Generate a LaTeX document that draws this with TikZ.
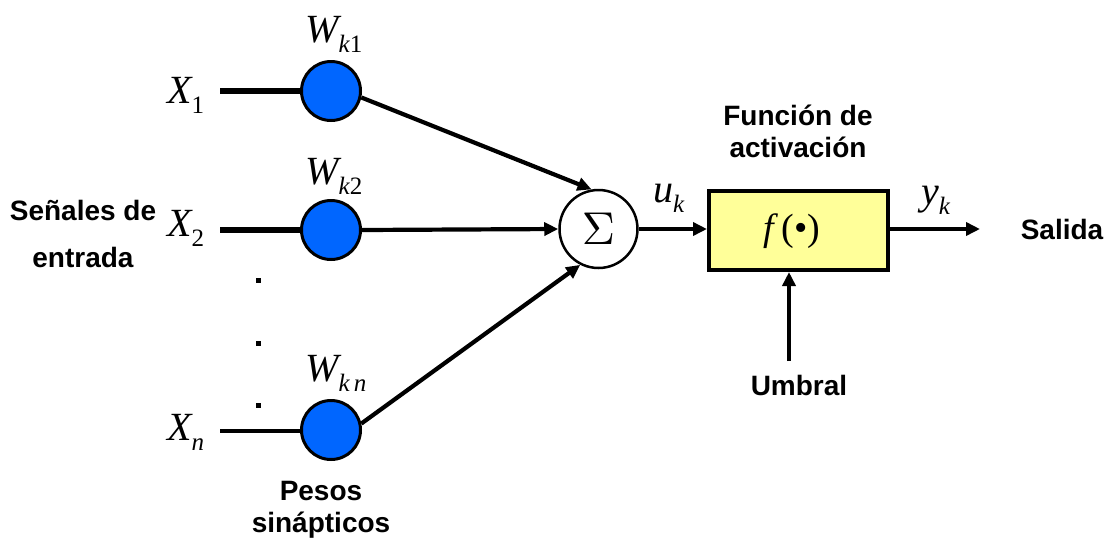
\documentclass[tikz,border=0pt]{standalone}
\usepackage{fontspec}
\usepackage{graphicx}
\setmainfont{Liberation Sans}
\newfontfamily\tms{Liberation Serif}
\usetikzlibrary{arrows.meta}
\definecolor{wblue}{RGB}{0,102,255}
\definecolor{fyellow}{RGB}{255,255,153}
% symbol with a lowered subscript
\newcommand{\msub}[2]{{\itshape #1}\raisebox{-10pt}{\fontsize{25}{25}\selectfont #2}}
\begin{document}
\begin{tikzpicture}[x=1pt,y=-1pt,
  wcirc/.style={circle, draw, line width=3pt, fill=wblue, minimum size=59pt, inner sep=0pt},
  sumc/.style={circle, draw, line width=2.5pt, fill=white, minimum size=78pt, inner sep=0pt},
  fbox/.style={rectangle, draw, line width=4pt, fill=fyellow, minimum width=179pt,
    minimum height=79pt, inner sep=0pt},
  wire/.style={line width=5.5pt},
  thinwire/.style={line width=3.5pt},
  arr/.style={line width=4.2pt, -{Triangle[length=14pt,width=13pt]}},
  lbl/.style={font=\bfseries\fontsize{28}{32}\selectfont, align=center, inner sep=0pt},
  sym/.style={inner sep=0pt, anchor=base west, font=\tms\fontsize{40}{40}\selectfont},
  dotmark/.style={fill=black, minimum size=5pt, inner sep=0pt, rectangle}
]
\useasboundingbox[fill=white] (0,0) rectangle (1104,542);

% synaptic weights
\node[wcirc] (w1) at (331,91) {};
\node[wcirc] (w2) at (331,230) {};
\node[wcirc] (wn) at (331,430) {};

% summing junction and activation block
\node[sumc] (sum) at (598.5,229) {\scalebox{4.6}{$\Sigma$}};
\node[fbox] (f) at (798.5,230.5) {};
\node[inner sep=0pt, font=\tms\fontsize{38}{38}\selectfont] (ftext) at (792,231) {\textit{f}\kern3pt(•)};

% input signal line ends
\coordinate (x1) at (220,91);
\coordinate (x2) at (220,230);
\coordinate (xn) at (220,431);
\coordinate (out) at (980,229);
\coordinate (th) at (789,361);

% input symbols
\node[sym] (lx1) at (167,103) {\msub{X}{1}};
\node[sym] (lx2) at (167,236) {\msub{X}{2}};
\node[sym] (lxn) at (167,440) {\msub{X}{\textit{n}}};

% weight symbols
\node[sym] (lw1) at (305,42) {\msub{W}{\textit{k}1}};
\node[sym] (lw2) at (305,184) {\msub{W}{\textit{k}2}};
\node[sym] (lwn) at (305,381) {\msub{W}{\textit{k\,n}}};

% net input and output symbols
\node[sym] (lu) at (653,202) {\msub{u}{\textit{k}}};
\node[sym] (ly) at (921,204) {\msub{y}{\textit{k}}};

% ellipsis between inputs
\node[dotmark] (d1) at (258,280) {};
\node[dotmark] (d2) at (258,343) {};
\node[dotmark] (d3) at (258,405) {};

% connections
\draw[wire] (x1) -- (w1.west);
\draw[wire] (x2) -- (w2.west);
\draw[thinwire] (xn) -- (wn.west |- xn);
\draw[arr] (w1.-12) -- (sum.100);
\draw[arr] (w2.east) -- (sum.west);
\draw[arr] (wn.12) -- (sum.-117);
\draw[arr] (sum.east) -- (f.west |- sum.east);
\draw[arr] (f.east |- out) -- (out);
\draw[arr] (th) -- (th |- f.south);

% descriptive labels
\node[lbl] (tin) at (83,234) {Señales de\\[15pt]entrada};
\node[lbl] (tact) at (798,131) {Función de\\activación};
\node[lbl] (tout) at (1062,229) {Salida};
\node[lbl] (tumb) at (799,385) {Umbral};
\node[lbl] (tpes) at (321,510) {Pesos\\sinápticos};
\end{tikzpicture}
\end{document}
